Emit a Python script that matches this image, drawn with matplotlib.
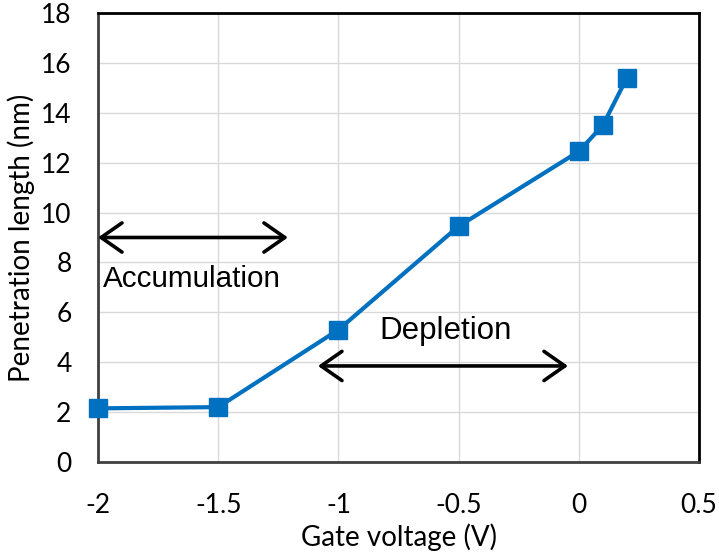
import matplotlib
matplotlib.use("Agg")
import matplotlib.pyplot as plt

voltage = [-2.0, -1.5, -1.0, -0.5, 0.0, 0.1, 0.2]
penetration = [2.15, 2.2, 5.3, 9.45, 12.45, 13.5, 15.4]
xticks = [-2, -1.5, -1, -0.5, 0, 0.5]
xticklabels = ["-2", "-1.5", "-1", "-0.5", "0", "0.5"]
yticks = [0, 2, 4, 6, 8, 10, 12, 14, 16, 18]

fig = plt.figure(figsize=(7.19, 5.54), dpi=100)
ax = fig.add_axes([0.1363, 0.1661, 0.8359, 0.8104])

ax.plot(voltage, penetration, color="#0070C0", lw=3.0, marker="s", ms=13.5,
        mfc="#0070C0", mec="#0070C0", zorder=3, clip_on=False)

ax.set_xlim(-2, 0.5)
ax.set_ylim(0, 18)
ax.set_xticks(xticks)
ax.set_xticklabels(xticklabels)
ax.set_yticks(yticks)
ax.grid(True, color="#d9d9d9", lw=1.0)
ax.set_axisbelow(True)

tickfont = "Lato"
ax.tick_params(length=0, labelsize=19, pad=19)
for lab in ax.get_xticklabels() + ax.get_yticklabels():
    lab.set_family(tickfont)
ax.tick_params(axis="x", pad=22)

ax.set_xlabel("Gate voltage (V)", family=tickfont, fontsize=20, labelpad=4)
ax.set_ylabel("Penetration length (nm)", family=tickfont, fontsize=20, labelpad=4)

for s in ["top", "right"]:
    ax.spines[s].set_color("black")
    ax.spines[s].set_linewidth(2)
for s in ["left", "bottom"]:
    ax.spines[s].set_color("#404040")
    ax.spines[s].set_linewidth(2)

arrow_kw = dict(arrowstyle="<->,head_length=0.5,head_width=0.35", color="black",
                lw=2.6, mutation_scale=30, shrinkA=0, shrinkB=0)
ax.annotate("", xy=(-1.21, 9.0), xytext=(-2.0, 9.0), arrowprops=arrow_kw,
            annotation_clip=False)
ax.annotate("", xy=(-0.045, 3.85), xytext=(-1.085, 3.85), arrowprops=arrow_kw)

ax.text(-1.98, 7.35, "Accumulation", family="Liberation Sans", fontsize=21.3,
        va="center", ha="left")
ax.text(-0.83, 5.25, "Depletion", family="Liberation Sans", fontsize=22.5,
        va="center", ha="left")

fig.savefig("out.png", dpi=100)
